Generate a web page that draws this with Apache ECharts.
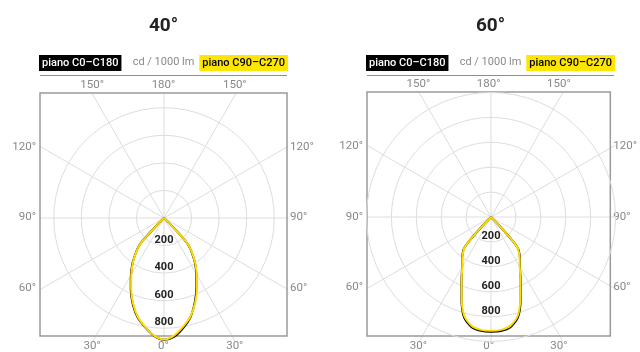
<!DOCTYPE html>
<html>
<head>
<meta charset="utf-8">
<script src="https://cdn.jsdelivr.net/npm/echarts@6/dist/echarts.min.js"></script>
<style>
  html, body { margin: 0; padding: 0; background: #fff; }
  #chart { width: 640px; height: 352px; }
</style>
</head>
<body>
<div id="chart"></div>
<script>
// ---------- data ----------
const chartTitles = ['40°', '60°'];
const planeNames = ['piano C0–C180', 'piano C90–C270'];
const unitLabel = 'cd / 1000 lm';
const ringLabels = [200, 400, 600, 800];
const topLabels = ['150°', '180°', '150°'];
const bottomLabels = ['30°', '0°', '30°'];
const sideLabels = ['60°', '90°', '120°'];
const radialMax = [900, 1000];

// gamma angles (degrees from nadir)
const gamma40 = [0, 5, 10, 15, 20, 25, 30, 35, 40, 42, 43, 44, 45, 46, 90];
const c0_40   = [884, 864, 810, 744, 652, 557, 469, 389, 301, 265, 231, 143, 53, 0, 0];
const c180_40 = [884, 857, 803, 745, 664, 571, 480, 397, 308, 269, 233, 146, 56, 0, 0];
const c90_40  = [882, 855, 800, 740, 658, 565, 475, 393, 305, 268, 232, 145, 55, 0, 0];
const c270_40 = [882, 855, 800, 740, 658, 565, 475, 393, 305, 268, 232, 145, 55, 0, 0];

const gamma60 = [0, 5, 10, 15, 20, 25, 30, 35, 38, 40, 41, 42, 43, 44, 45, 90];
const c0_60   = [922, 919, 899, 836, 697, 564, 465, 406, 370, 345, 322, 272, 176, 81, 0, 0];
const c180_60 = [922, 918, 898, 836, 694, 562, 464, 405, 369, 345, 322, 272, 176, 81, 0, 0];
const c90_60  = [914, 910, 888, 825, 690, 560, 462, 402, 365, 340, 318, 270, 175, 80, 0, 0];
const c270_60 = [914, 910, 888, 825, 690, 560, 462, 402, 365, 340, 318, 270, 175, 80, 0, 0];

// ---------- layout ----------
const FONT = 'Roboto, "Liberation Sans", sans-serif';
const panels = [
  { cx: 164, cy: 218, boxL: 40, boxT: 93, boxW: 247, boxH: 249, r: 124, gamma: gamma40,
    planes: [[c0_40, c180_40], [c90_40, c270_40]] },
  { cx: 491, cy: 217, boxL: 367, boxT: 92, boxW: 247, boxH: 250, r: 124.5, gamma: gamma60,
    planes: [[c0_60, c180_60], [c90_60, c270_60]] }
];
const planeColors = ['#000000', '#ffdc00'];
const GRID = '#dddddd';

function planeData(gamma, right, left) {
  const pts = [];
  for (let i = gamma.length - 1; i >= 0; i--) pts.push([right[i], 360 - gamma[i]]);
  for (let i = 0; i < gamma.length; i++) pts.push([left[i], gamma[i]]);
  return pts;
}
const off = Math.tan(Math.PI / 6);
function pick(labels) {
  return function (v) { return v < -1e-6 ? labels[0] : (v > 1e-6 ? labels[2] : labels[1]); };
}

const option = {
  animation: false,
  backgroundColor: '#fff',
  title: [], legend: [], polar: [], angleAxis: [], radiusAxis: [],
  grid: [], xAxis: [], yAxis: [], series: [], graphic: []
};

panels.forEach(function (p, k) {
  const midX = p.boxL + p.boxW / 2;
  // titles
  option.title.push({
    text: chartTitles[k], left: midX, top: 17, textAlign: 'center', padding: 0,
    textStyle: { fontFamily: FONT, fontSize: 19, fontWeight: 'bold', color: '#222' }
  });
  option.title.push({
    text: unitLabel, left: midX, top: 57, textAlign: 'center', padding: 0,
    textStyle: { fontFamily: FONT, fontSize: 11, fontWeight: 'normal', color: '#8a8a8a' }
  });
  // legends (boxes)
  option.legend.push({
    left: p.boxL - 6, top: 55, padding: 0, itemWidth: 0, itemHeight: 0, icon: 'none',
    selectedMode: false,
    data: [{ name: planeNames[0], textStyle: { fontFamily: FONT, fontSize: 11, fontWeight: 500,
      color: '#fff', backgroundColor: '#000', padding: [2, 3, 2, 3], lineHeight: 12 } }]
  });
  option.legend.push({
    right: 640 - (p.boxL + p.boxW) - 1, top: 55, padding: 0, itemWidth: 0, itemHeight: 0, icon: 'none',
    selectedMode: false,
    data: [{ name: planeNames[1], textStyle: { fontFamily: FONT, fontSize: 11, fontWeight: 500,
      color: '#000', backgroundColor: '#ffe600', padding: [2, 3, 2, 3], lineHeight: 12 } }]
  });
  option.graphic.push({
    type: 'line', z: 10,
    shape: { x1: p.boxL, y1: 75.5, x2: p.boxL + p.boxW, y2: 75.5 },
    style: { stroke: '#8c8c8c', lineWidth: 1.2 }
  });

  // polar: spokes (off-axis), extends to box edge
  const sp = option.polar.length;
  option.polar.push({ center: [p.cx, p.cy], radius: 143.5 });
  option.angleAxis.push({
    polarIndex: sp, type: 'value', min: 0, max: 360, interval: 30, startAngle: 270, clockwise: true,
    axisLine: { show: false }, axisTick: { show: false }, axisLabel: { show: false },
    splitLine: { show: true, lineStyle: { color: ['rgba(0,0,0,0)', GRID, GRID], width: 1 } },
    z: 0
  });
  option.radiusAxis.push({
    polarIndex: sp, type: 'value', min: 0, max: radialMax[k], show: false,
    splitLine: { show: false }
  });

  // polar: main
  const mp = option.polar.length;
  option.polar.push({ center: [p.cx, p.cy], radius: p.r });
  option.angleAxis.push({
    polarIndex: mp, type: 'value', min: 0, max: 360, interval: 90, startAngle: 270, clockwise: true,
    axisLine: { show: false }, axisTick: { show: false }, axisLabel: { show: false },
    splitLine: { show: true, lineStyle: { color: GRID, width: 1 } },
    z: 0
  });
  const ringColors = [GRID, GRID, GRID, GRID, GRID, radialMax[k] % 200 === 0 ? GRID : 'rgba(0,0,0,0)'];
  option.radiusAxis.push({
    polarIndex: mp, type: 'value', min: 0, max: radialMax[k], interval: 200,
    axisLine: { show: false }, axisTick: { show: false },
    splitLine: { show: true, lineStyle: { color: ringColors, width: 1 } },
    axisLabel: {
      show: true, margin: 0, align: 'center', verticalAlign: 'bottom',
      fontFamily: FONT, fontSize: 11, fontWeight: 'bold', color: '#222',
      formatter: function (v) { return ringLabels.indexOf(v) >= 0 ? String(v) : ''; }
    },
    z: 3
  });

  // cartesian frame with degree labels at spoke/box intersections
  const g = option.grid.length;
  option.grid.push({
    left: p.boxL, top: p.boxT, width: p.boxW, height: p.boxH,
    show: true, borderColor: '#9a9a9a', borderWidth: 1.5, backgroundColor: 'transparent', z: 2
  });
  const lblStyle = { fontFamily: FONT, fontSize: 11.5, color: '#888' };
  const hidden = { axisLine: { show: false }, axisTick: { show: false }, splitLine: { show: false } };
  option.xAxis.push(Object.assign({
    gridIndex: g, type: 'value', position: 'top', min: -1, max: 1,
    axisLabel: Object.assign({ customValues: [-off, 0, off], margin: 2, formatter: pick(topLabels) }, lblStyle)
  }, hidden));
  option.xAxis.push(Object.assign({
    gridIndex: g, type: 'value', position: 'bottom', min: -1, max: 1,
    axisLabel: Object.assign({ customValues: [-off, 0, off], margin: 4, formatter: pick(bottomLabels) }, lblStyle)
  }, hidden));
  option.yAxis.push(Object.assign({
    gridIndex: g, type: 'value', position: 'left', min: -0.975, max: 1.025,
    axisLabel: Object.assign({ customValues: [-off, 0, off], margin: 4, formatter: pick(sideLabels) }, lblStyle)
  }, hidden));
  option.yAxis.push(Object.assign({
    gridIndex: g, type: 'value', position: 'right', min: -0.975, max: 1.025,
    axisLabel: Object.assign({ customValues: [-off, 0, off], margin: 3, formatter: pick(sideLabels) }, lblStyle)
  }, hidden));

  // curves
  p.planes.forEach(function (pl, j) {
    option.series.push({
      name: planeNames[j], type: 'line', coordinateSystem: 'polar', polarIndex: mp,
      data: planeData(p.gamma, pl[0], pl[1]),
      symbol: 'none', smooth: 0.25, z: 4 + j,
      lineStyle: { color: planeColors[j], width: 2 },
      itemStyle: { color: planeColors[j] }
    });
  });
});

const chart = echarts.init(document.getElementById('chart'), null, { renderer: 'canvas' });
chart.setOption(option);
</script>
</body>
</html>
